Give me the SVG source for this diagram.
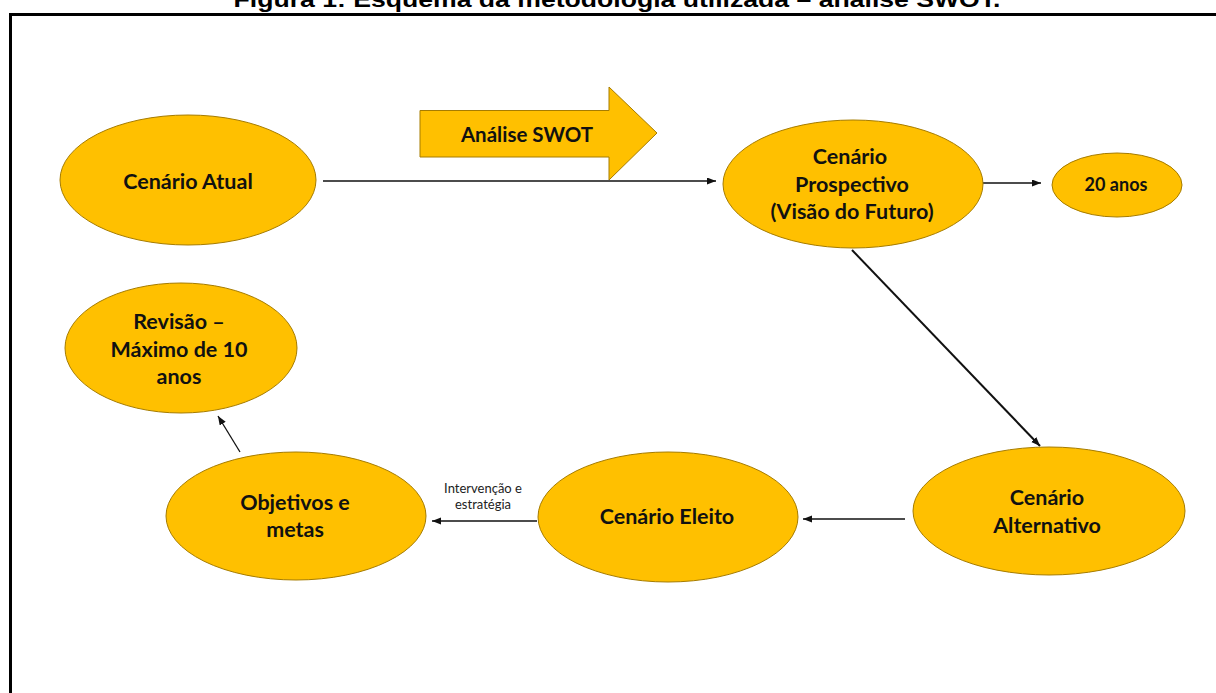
<svg xmlns="http://www.w3.org/2000/svg" width="1216" height="693" viewBox="0 0 1216 693">
<style>
.node{fill:#FFC000;stroke:#A67C00;stroke-width:1}
.lbl{font-family:Lato,"Open Sans","Liberation Sans",sans-serif;font-weight:bold;font-size:21.5px;fill:#111;text-anchor:middle}
.small{font-family:Lato,"Open Sans","Liberation Sans",sans-serif;font-size:13px;fill:#222;text-anchor:middle}
.con{stroke:#111;stroke-width:1.3;fill:none;marker-end:url(#ah)}
</style>
<defs>
<marker id="ah" markerUnits="userSpaceOnUse" markerWidth="10" markerHeight="8" refX="9" refY="3.5" orient="auto">
<path d="M0,0 L9,3.5 L0,7 z" fill="#111"/>
</marker>
</defs>
<rect x="0" y="0" width="1216" height="693" fill="#fff"/>
<text x="617" y="7" font-family="'Liberation Sans',Arial,sans-serif" font-weight="bold" font-size="22" text-anchor="middle" textLength="767" lengthAdjust="spacingAndGlyphs">Figura 1: Esquema da metodologia utilizada – análise SWOT.</text>
<rect x="10.5" y="14.5" width="1220" height="700" fill="none" stroke="#000" stroke-width="3"/>
<g id="connectors">
<line class="con" x1="323" y1="181" x2="716" y2="181"/>
<line class="con" x1="983" y1="183" x2="1041" y2="183"/>
<line class="con" x1="852" y1="250" x2="1040" y2="446" style="stroke-width:2"/>
<line class="con" x1="905" y1="519" x2="803" y2="519"/>
<line class="con" x1="537" y1="521" x2="432" y2="521"/>
<line class="con" x1="240" y1="452" x2="218" y2="416"/>
<text class="small" x="483" y="493">Intervenção e</text>
<text class="small" x="483" y="509">estratégia</text>
</g>
<g id="analise-swot">
<path class="node" d="M420,110.5 L609,110.5 L609,87 L657,133 L609,180 L609,157 L420,157 Z"/>
<text class="lbl" x="527" y="142" style="font-size:20.5px">Análise SWOT</text>
</g>
<g id="cenario-atual">
<ellipse class="node" cx="188" cy="180" rx="128" ry="65"/>
<text class="lbl" x="188" y="189">Cenário Atual</text>
</g>
<g id="cenario-prospectivo">
<ellipse class="node" cx="853" cy="184" rx="130" ry="64"/>
<text class="lbl" x="850" y="164">Cenário</text>
<text class="lbl" x="852" y="192">Prospectivo</text>
<text class="lbl" x="852" y="219">(Visão do Futuro)</text>
</g>
<g id="vinte-anos">
<ellipse class="node" cx="1117" cy="185" rx="65" ry="32"/>
<text class="lbl" x="1116" y="191" style="font-size:18px">20 anos</text>
</g>
<g id="cenario-alternativo">
<ellipse class="node" cx="1049" cy="511" rx="136" ry="64"/>
<text class="lbl" x="1047" y="505">Cenário</text>
<text class="lbl" x="1047" y="533">Alternativo</text>
</g>
<g id="cenario-eleito">
<ellipse class="node" cx="668" cy="517" rx="130" ry="65"/>
<text class="lbl" x="667" y="524">Cenário Eleito</text>
</g>
<g id="objetivos-metas">
<ellipse class="node" cx="296" cy="516" rx="130" ry="64"/>
<text class="lbl" x="295" y="510">Objetivos e</text>
<text class="lbl" x="295" y="537">metas</text>
</g>
<g id="revisao">
<ellipse class="node" cx="181" cy="348" rx="116" ry="65"/>
<text class="lbl" x="179" y="329">Revisão –</text>
<text class="lbl" x="179" y="357">Máximo de 10</text>
<text class="lbl" x="179" y="384">anos</text>
</g>
</svg>
